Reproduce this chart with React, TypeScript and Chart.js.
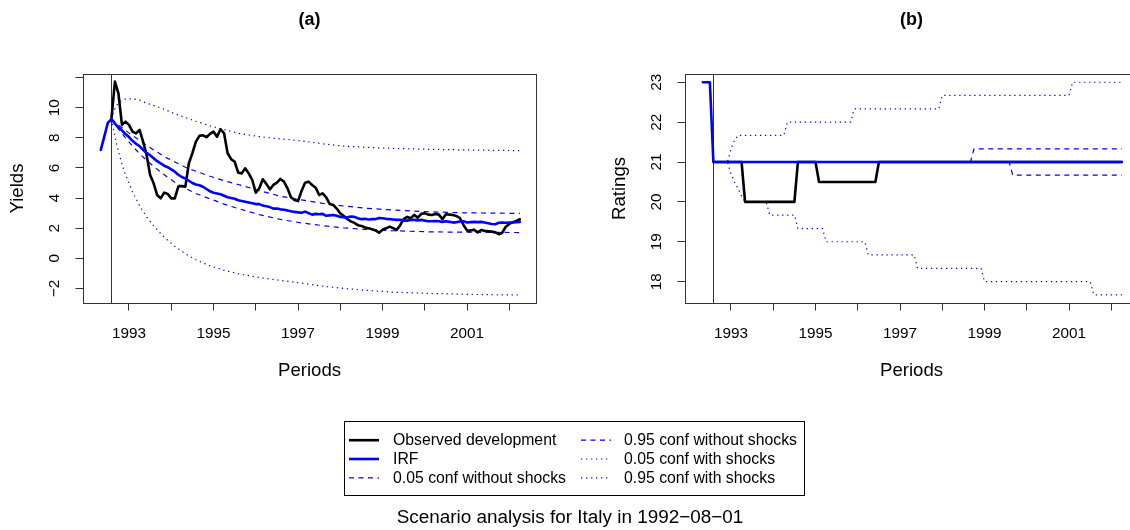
import React, { useEffect, useRef } from 'react';
import { Chart, registerables } from 'chart.js';

Chart.register(...registerables);

const FONT = '"Liberation Sans", Arial, Helvetica, sans-serif';
const BLUE = '#0000FF';

// ---- time axis (monthly, month 0 = 1992-08, the scenario date) ----
const shockDate = 1992 + 7 / 12;
const xMin = 1991.9115;
const xMax = 2002.631;
const yearTicks = [1993, 1994, 1995, 1996, 1997, 1998, 1999, 2000, 2001, 2002];
const yearLabels = ['1993', '', '1995', '', '1997', '', '1999', '', '2001', ''];

// ---- panel (a): yields ----
const yieldTicks = [-2, 0, 2, 4, 6, 8, 10, 12];
const yieldTickLabels = ['\u22122', '0', '2', '4', '6', '8', '10', ''];

const irfYieldStart = -3; // first IRF month (1992-05)
const irfYields = [
  7.2, 8.1, 9.0,
  9.25, 8.95, 8.7, 8.5, 8.25, 8.05, 7.8, 7.6, 7.45, 7.2,
  7.0, 6.85, 6.65, 6.45, 6.3, 6.15, 6.05, 5.9, 5.75, 5.55,
  5.4, 5.3, 5.15, 5.0, 4.9, 4.85, 4.75, 4.6, 4.45, 4.35,
  4.3, 4.25, 4.15, 4.05, 4.0, 3.95, 3.85, 3.8, 3.75, 3.7,
  3.65, 3.6, 3.6, 3.5, 3.45, 3.4, 3.3, 3.3, 3.25, 3.22,
  3.18, 3.12, 3.08, 3.05, 3.02, 3.1, 3.0, 2.9, 2.95, 2.92,
  2.95, 2.82, 2.85, 2.88, 2.82, 2.75, 2.72, 2.73, 2.78, 2.75,
  2.66, 2.6, 2.62, 2.58, 2.6, 2.6, 2.68, 2.66, 2.62, 2.6,
  2.58, 2.55, 2.55, 2.5, 2.5, 2.55, 2.55, 2.52, 2.55, 2.5,
  2.46, 2.46, 2.48, 2.46, 2.42, 2.46, 2.42, 2.37, 2.4, 2.44,
  2.46, 2.38, 2.4, 2.42, 2.4, 2.42, 2.38, 2.33, 2.28, 2.26,
  2.36, 2.38, 2.36, 2.37, 2.38, 2.4, 2.42,
];

const observedYieldStart = 0;
const observedYields = [
  9.24, 11.74, 10.96, 8.86, 9.08, 8.86, 8.41, 8.3, 8.53, 7.75,
  6.86, 5.53, 4.98, 4.2, 3.98, 4.36, 4.27, 3.98, 3.98, 4.76,
  4.8, 4.76, 6.31, 6.98, 7.75, 8.13, 8.17, 8.04, 8.26, 8.41,
  8.08, 8.57, 8.3, 6.98, 6.58, 6.42, 5.69, 5.64, 5.98, 5.64,
  5.2, 4.36, 4.65, 5.25, 4.94, 4.58, 4.87, 5.02, 5.27, 5.09,
  4.65, 4.05, 3.87, 3.8, 4.47, 5.02, 5.09, 4.87, 4.69, 4.2,
  4.31, 4.05, 3.6, 3.54, 3.3, 2.98, 2.81, 2.6, 2.45, 2.35,
  2.2, 2.15, 2.05, 1.99, 1.93, 1.85, 1.7, 1.9, 1.99, 2.1,
  2.0, 1.88, 2.2, 2.6, 2.75, 2.66, 2.88, 2.7, 2.95, 2.99,
  2.9, 2.88, 2.94, 2.9, 2.6, 2.92, 2.9, 2.88, 2.8, 2.66,
  2.2, 1.84, 1.84, 1.9, 1.72, 1.88, 1.82, 1.8, 1.77, 1.72,
  1.6, 1.7, 2.1, 2.28, 2.4, 2.48, 2.59,
];

const bandMonthsA = [0, 1, 2, 3, 4, 6, 8, 10, 12, 15, 18, 21, 24, 28, 32, 36, 42, 48, 54, 60, 66, 72, 80, 90, 100, 108, 116];
const yieldLow05NoShock = [9.25, 8.9, 8.6, 8.3, 8.0, 7.45, 6.95, 6.5, 6.1, 5.55, 5.05, 4.65, 4.3, 3.95, 3.6, 3.3, 2.9, 2.58, 2.35, 2.17, 2.02, 1.92, 1.83, 1.76, 1.73, 1.72, 1.71];
const yieldHigh95NoShock = [9.25, 9.05, 8.85, 8.68, 8.5, 8.15, 7.85, 7.5, 7.2, 6.75, 6.4, 6.05, 5.78, 5.45, 5.15, 4.9, 4.5, 4.12, 3.88, 3.65, 3.47, 3.33, 3.2, 3.09, 3.02, 3.0, 2.98];
const yieldLow05Shock = [9.25, 8.1, 7.1, 6.25, 5.55, 4.4, 3.5, 2.75, 2.15, 1.4, 0.8, 0.3, -0.1, -0.5, -0.8, -1.02, -1.28, -1.47, -1.65, -1.85, -2.0, -2.12, -2.25, -2.33, -2.39, -2.42, -2.44];
const yieldHigh95Shock = [9.25, 9.95, 10.35, 10.5, 10.57, 10.6, 10.5, 10.3, 10.15, 9.9, 9.6, 9.35, 9.1, 8.8, 8.55, 8.3, 8.08, 7.93, 7.8, 7.6, 7.45, 7.37, 7.3, 7.24, 7.2, 7.17, 7.15];

// ---- panel (b): ratings ----
const ratingTicks = [18, 19, 20, 21, 22, 23];
const ratingTickLabels = ['18', '19', '20', '21', '22', '23'];

const irfRatingMonths = [-3, -1, 0, 116];
const irfRatings = [23, 23, 21, 21];
const observedRatingMonths = [0, 8, 9, 23, 24, 29, 30, 46, 47, 116];
const observedRatings = [21, 21, 20, 20, 21, 21, 20.5, 20.5, 21, 21];
const ratingLow05NoShockMonths = [0, 84, 85, 116];
const ratingLow05NoShock = [21, 21, 20.67, 20.67];
const ratingHigh95NoShockMonths = [0, 73, 74, 116];
const ratingHigh95NoShock = [21, 21, 21.33, 21.33];
const ratingLow05ShockMonths = [0, 4, 5, 6, 7, 8, 9, 15, 16, 23, 24, 31, 32, 43, 44, 57, 58, 76, 77, 107, 108, 116];
const ratingLow05Shock = [21, 21, 20.7, 20.5, 20.33, 20.15, 20, 20, 19.67, 19.67, 19.33, 19.33, 19, 19, 18.67, 18.67, 18.33, 18.33, 18, 18, 17.67, 17.67];
const ratingHigh95ShockMonths = [0, 4, 5, 6, 7, 20, 21, 39, 40, 64, 65, 101, 102, 116];
const ratingHigh95Shock = [21, 21, 21.33, 21.55, 21.67, 21.67, 22, 22, 22.33, 22.33, 22.67, 22.67, 23, 23];

// ---- helpers ----
const toX = (m: number) => shockDate + m / 12;
const seqPts = (start: number, vals: number[]) => vals.map((v, i) => ({ x: toX(start + i), y: v }));
const pts = (months: number[], vals: number[]) => vals.map((v, i) => ({ x: toX(months[i]), y: v }));

const DASH = [5, 4.5];
const DOT = [1.3, 3.7];

function seriesSet(irf: any[], obs: any[], lo: any[], hi: any[], loS: any[], hiS: any[]) {
  const base = { pointRadius: 0, fill: false, tension: 0 };
  return [
    { ...base, label: 'IRF', data: irf, borderColor: BLUE, borderWidth: 2.6, borderJoinStyle: 'round', borderCapStyle: 'round' },
    { ...base, label: 'Observed development', data: obs, borderColor: '#000', borderWidth: 2.6, borderJoinStyle: 'round', borderCapStyle: 'round' },
    { ...base, label: '0.05 conf without shocks', data: lo, borderColor: BLUE, borderWidth: 1.2, borderDash: DASH },
    { ...base, label: '0.95 conf without shocks', data: hi, borderColor: BLUE, borderWidth: 1.2, borderDash: DASH },
    { ...base, label: '0.05 conf with shocks', data: loS, borderColor: BLUE, borderWidth: 1.2, borderDash: DOT },
    { ...base, label: '0.95 conf with shocks', data: hiS, borderColor: BLUE, borderWidth: 1.2, borderDash: DOT },
  ];
}

const boxPlugin = {
  id: 'rbox',
  beforeDatasetsDraw(chart: any) {
    const { ctx, chartArea: a, scales } = chart;
    const px = Math.round(scales.x.getPixelForValue(shockDate)) + 0.5;
    ctx.save();
    ctx.strokeStyle = '#333';
    ctx.lineWidth = 1;
    ctx.beginPath();
    ctx.moveTo(px, a.top);
    ctx.lineTo(px, a.bottom);
    ctx.stroke();
    ctx.restore();
  },
  afterDraw(chart: any) {
    const { ctx, chartArea: a } = chart;
    const l = Math.round(a.left) + 0.5;
    const t = Math.round(a.top) + 0.5;
    const r = Math.round(a.right) + 0.5;
    const b = Math.round(a.bottom) + 0.5;
    ctx.save();
    ctx.strokeStyle = '#333';
    ctx.lineWidth = 1;
    ctx.strokeRect(l, t, r - l, b - t);
    ctx.restore();
  },
};

const CANVAS_W = 602;
const CANVAS_H = 400;

function makeChart(canvas: HTMLCanvasElement, cfg: any) {
  return new Chart(canvas, {
    type: 'line',
    data: { datasets: cfg.datasets },
    options: {
      responsive: false,
      animation: false,
      events: [],
      layout: { padding: { left: 0, top: 0, right: CANVAS_W - 536, bottom: 0 } },
      plugins: {
        legend: { display: false },
        tooltip: { enabled: false },
        title: {
          display: true,
          text: cfg.title,
          fullSize: false,
          color: '#000',
          font: { family: FONT, size: 18, weight: 'bold', lineHeight: 1.2 },
          padding: { top: 9.2, bottom: 74 - 9.2 - 21.6 },
        },
      },
      scales: {
        x: {
          type: 'linear',
          min: xMin,
          max: xMax,
          afterBuildTicks: (s: any) => {
            s.ticks = yearTicks.map((v) => ({ value: v }));
          },
          afterFit: (s: any) => {
            s.height = CANVAS_H - 303;
          },
          grid: { drawOnChartArea: false, drawTicks: true, tickLength: 7.5, color: '#333', lineWidth: 1 },
          border: { display: false },
          ticks: {
            autoSkip: false,
            maxRotation: 0,
            minRotation: 0,
            padding: 13.6,
            color: '#000',
            font: { family: FONT, size: 15.3 },
            callback: (_v: any, i: number) => yearLabels[i],
          },
          title: {
            display: true,
            text: 'Periods',
            color: '#000',
            font: { family: FONT, size: 18.6, lineHeight: 1.2 },
            padding: { top: 0, bottom: 17.8 },
          },
        },
        y: {
          type: 'linear',
          min: cfg.yMin,
          max: cfg.yMax,
          afterBuildTicks: (s: any) => {
            s.ticks = cfg.yTicks.map((v: number) => ({ value: v }));
          },
          afterFit: (s: any) => {
            s.width = 83;
          },
          grid: { drawOnChartArea: false, drawTicks: true, tickLength: 7.5, color: '#333', lineWidth: 1 },
          border: { display: false },
          ticks: {
            autoSkip: false,
            minRotation: 90,
            maxRotation: 90,
            crossAlign: 'center',
            padding: 12.3,
            color: '#000',
            font: { family: FONT, size: 15.3 },
            callback: (_v: any, i: number) => cfg.yLabels[i],
          },
          title: {
            display: true,
            text: cfg.yTitle,
            color: '#000',
            font: { family: FONT, size: 18.6, lineHeight: 1.2 },
            padding: { top: 6.3, bottom: 0 },
          },
        },
      },
    } as any,
    plugins: [boxPlugin],
  });
}

const legendRows = [
  { y: 440.2, col: 0, label: 'Observed development', color: '#000', width: 2.6, dash: '' },
  { y: 459, col: 0, label: 'IRF', color: BLUE, width: 2.6, dash: '' },
  { y: 477.8, col: 0, label: '0.05 conf without shocks', color: BLUE, width: 1.2, dash: '5 4.5' },
  { y: 440.2, col: 1, label: '0.95 conf without shocks', color: BLUE, width: 1.2, dash: '5 4.5' },
  { y: 459, col: 1, label: '0.05 conf with shocks', color: BLUE, width: 1.2, dash: '1.3 3.7' },
  { y: 477.8, col: 1, label: '0.95 conf with shocks', color: BLUE, width: 1.2, dash: '1.3 3.7' },
];
const colLineX = [349, 581];
const colTextX = [393, 624];

export default function App() {
  const refA = useRef<HTMLCanvasElement>(null);
  const refB = useRef<HTMLCanvasElement>(null);

  useEffect(() => {
    const a = makeChart(refA.current!, {
      title: '(a)',
      yTitle: 'Yields',
      yMin: -2.97,
      yMax: 12.24,
      yTicks: yieldTicks,
      yLabels: yieldTickLabels,
      datasets: seriesSet(
        seqPts(irfYieldStart, irfYields),
        seqPts(observedYieldStart, observedYields),
        pts(bandMonthsA, yieldLow05NoShock),
        pts(bandMonthsA, yieldHigh95NoShock),
        pts(bandMonthsA, yieldLow05Shock),
        pts(bandMonthsA, yieldHigh95Shock),
      ),
    });
    const b = makeChart(refB.current!, {
      title: '(b)',
      yTitle: 'Ratings',
      yMin: 17.464,
      yMax: 23.207,
      yTicks: ratingTicks,
      yLabels: ratingTickLabels,
      datasets: seriesSet(
        pts(irfRatingMonths, irfRatings),
        pts(observedRatingMonths, observedRatings),
        pts(ratingLow05NoShockMonths, ratingLow05NoShock),
        pts(ratingHigh95NoShockMonths, ratingHigh95NoShock),
        pts(ratingLow05ShockMonths, ratingLow05Shock),
        pts(ratingHigh95ShockMonths, ratingHigh95Shock),
      ),
    });
    return () => {
      a.destroy();
      b.destroy();
    };
  }, []);

  return (
    <div
      style={{
        position: 'fixed',
        left: 0,
        top: 0,
        width: 1130,
        height: 530,
        overflow: 'hidden',
        background: '#fff',
        fontFamily: FONT,
        color: '#000',
      }}
    >
      <canvas ref={refA} width={CANVAS_W} height={CANVAS_H} style={{ position: 'absolute', left: 0, top: 0 }} />
      <canvas ref={refB} width={CANVAS_W} height={CANVAS_H} style={{ position: 'absolute', left: 602, top: 0 }} />
      <svg width={1130} height={530} style={{ position: 'absolute', left: 0, top: 0 }}>
        <rect x={344.5} y={421.5} width={460} height={74} fill="none" stroke="#000" strokeWidth={1} />
        {legendRows.map((r, i) => (
          <line
            key={i}
            x1={colLineX[r.col]}
            x2={colLineX[r.col] + 30}
            y1={r.y}
            y2={r.y}
            stroke={r.color}
            strokeWidth={r.width}
            strokeDasharray={r.dash || undefined}
          />
        ))}
      </svg>
      {legendRows.map((r, i) => (
        <div
          key={i}
          style={{
            position: 'absolute',
            left: colTextX[r.col],
            top: r.y - 10,
            height: 20,
            lineHeight: '20px',
            fontSize: 15.8,
            whiteSpace: 'nowrap',
          }}
        >
          {r.label}
        </div>
      ))}
      <div
        style={{
          position: 'absolute',
          left: 0,
          width: 1140,
          top: 516.7 - 12,
          height: 24,
          lineHeight: '24px',
          fontSize: 18.9,
          textAlign: 'center',
          whiteSpace: 'nowrap',
        }}
      >
        Scenario analysis for Italy in 1992{'\u2212'}08{'\u2212'}01
      </div>
    </div>
  );
}
